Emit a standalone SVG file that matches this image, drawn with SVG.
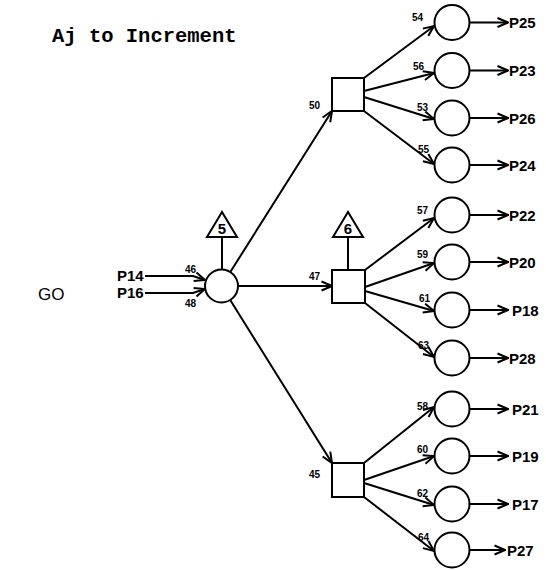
<svg xmlns="http://www.w3.org/2000/svg" width="546" height="570" viewBox="0 0 546 570">
<style>
.ln{fill:none;stroke:#000;stroke-width:2}
.nd{fill:#fff;stroke:#000;stroke-width:2}
.pl{font-family:"Liberation Sans",Arial,sans-serif;font-size:15px;font-weight:bold;fill:#000}
.num{font-family:"Liberation Sans",Arial,sans-serif;font-size:10px;font-weight:bold;fill:#000}
.ttl{font-family:"Liberation Mono","Courier New",monospace;font-size:20.5px;font-weight:bold;fill:#000}
</style>
<defs>
<marker id="a" viewBox="0 0 12 12" refX="11.5" refY="6" markerWidth="12" markerHeight="12" orient="auto" markerUnits="userSpaceOnUse">
<path d="M1,1.5 L11.5,6 L1,10.5" fill="none" stroke="#000" stroke-width="2"/>
</marker>
</defs>
<rect width="546" height="570" fill="#fff"/>
<text class="ttl" x="52" y="42">Aj to Increment</text>
<text x="38" y="300" font-family="Liberation Sans,Arial,sans-serif" font-size="17" fill="#000">GO</text>

<g id="connectors">
<polyline class="ln" points="145,276 193,276 205,280" marker-end="url(#a)"/>
<polyline class="ln" points="145,293 193,293 205,289" marker-end="url(#a)"/>
<line class="ln" x1="222" y1="237" x2="222" y2="270"/>
<line class="ln" x1="348" y1="237" x2="348" y2="270"/>
<line class="ln" x1="230.3" y1="272" x2="332" y2="111" marker-end="url(#a)"/>
<line class="ln" x1="238" y1="286" x2="332" y2="286" marker-end="url(#a)"/>
<line class="ln" x1="230.2" y1="300" x2="332" y2="463" marker-end="url(#a)"/>

<line class="ln" x1="364" y1="78" x2="434" y2="26" marker-end="url(#a)"/>
<line class="ln" x1="364" y1="91" x2="434" y2="73" marker-end="url(#a)"/>
<line class="ln" x1="364" y1="97" x2="434" y2="119" marker-end="url(#a)"/>
<line class="ln" x1="364" y1="111" x2="434" y2="164" marker-end="url(#a)"/>

<line class="ln" x1="365" y1="270" x2="434" y2="218" marker-end="url(#a)"/>
<line class="ln" x1="365" y1="287" x2="434" y2="263" marker-end="url(#a)"/>
<line class="ln" x1="365" y1="291" x2="434" y2="311" marker-end="url(#a)"/>
<line class="ln" x1="365" y1="303" x2="434" y2="357" marker-end="url(#a)"/>

<line class="ln" x1="364" y1="463" x2="434" y2="407" marker-end="url(#a)"/>
<line class="ln" x1="364" y1="480" x2="434" y2="456" marker-end="url(#a)"/>
<line class="ln" x1="364" y1="483" x2="434" y2="505" marker-end="url(#a)"/>
<line class="ln" x1="364" y1="497" x2="434" y2="551" marker-end="url(#a)"/>

<line class="ln" x1="469.5" y1="22.5" x2="508" y2="22.5" marker-end="url(#a)"/>
<line class="ln" x1="469.5" y1="70.5" x2="508" y2="70.5" marker-end="url(#a)"/>
<line class="ln" x1="469.5" y1="118" x2="508" y2="118" marker-end="url(#a)"/>
<line class="ln" x1="469.5" y1="165" x2="508" y2="165" marker-end="url(#a)"/>
<line class="ln" x1="469.5" y1="215" x2="508" y2="215" marker-end="url(#a)"/>
<line class="ln" x1="469.5" y1="262" x2="508" y2="262" marker-end="url(#a)"/>
<line class="ln" x1="469.5" y1="310" x2="508" y2="310" marker-end="url(#a)"/>
<line class="ln" x1="469.5" y1="358" x2="508" y2="358" marker-end="url(#a)"/>
<line class="ln" x1="469.5" y1="409" x2="508" y2="409" marker-end="url(#a)"/>
<line class="ln" x1="469.5" y1="456" x2="508" y2="456" marker-end="url(#a)"/>
<line class="ln" x1="469.5" y1="504" x2="508" y2="504" marker-end="url(#a)"/>
<line class="ln" x1="469.5" y1="550" x2="505" y2="550" marker-end="url(#a)"/>
</g>

<g id="inputs">
<text class="pl" x="117" y="281" font-size="13.5">P14</text>
<text class="pl" x="117" y="298" font-size="13.5">P16</text>
<text class="num" x="185" y="273">46</text>
<text class="num" x="185" y="307">48</text>
</g>

<g id="hub"><circle class="nd" cx="221.5" cy="286" r="16.5"/></g>
<g id="tri5"><polygon class="nd" points="222,212 207,237 237,237"/><text class="pl" x="222" y="234" text-anchor="middle" font-size="14">5</text></g>
<g id="tri6"><polygon class="nd" points="348,212 333,237 363,237"/><text class="pl" x="348" y="234" text-anchor="middle" font-size="14">6</text></g>

<g id="t50"><rect class="nd" x="332" y="78" width="32" height="33"/><text class="num" x="309" y="109">50</text></g>
<g id="t47"><rect class="nd" x="332" y="270" width="33" height="33"/><text class="num" x="309" y="280">47</text></g>
<g id="t45"><rect class="nd" x="332" y="463" width="32" height="34"/><text class="num" x="309" y="478">45</text></g>

<g id="p54"><circle class="nd" cx="452" cy="22.5" r="17.5"/><text class="num" x="412" y="21">54</text><text class="pl" x="509" y="28">P25</text></g>
<g id="p56"><circle class="nd" cx="452" cy="70.5" r="17.5"/><text class="num" x="413" y="70">56</text><text class="pl" x="509" y="76">P23</text></g>
<g id="p53"><circle class="nd" cx="452" cy="118" r="17.5"/><text class="num" x="417" y="111">53</text><text class="pl" x="509" y="123.5">P26</text></g>
<g id="p55"><circle class="nd" cx="452" cy="165" r="17.5"/><text class="num" x="418" y="153">55</text><text class="pl" x="509" y="170.5">P24</text></g>

<g id="p57"><circle class="nd" cx="452" cy="215" r="17.5"/><text class="num" x="417" y="214">57</text><text class="pl" x="509" y="220.5">P22</text></g>
<g id="p59"><circle class="nd" cx="452" cy="262" r="17.5"/><text class="num" x="417" y="258">59</text><text class="pl" x="509" y="267.5">P20</text></g>
<g id="p61"><circle class="nd" cx="452" cy="310" r="17.5"/><text class="num" x="419" y="302">61</text><text class="pl" x="512" y="315.5">P18</text></g>
<g id="p63"><circle class="nd" cx="452" cy="358" r="17.5"/><text class="num" x="418" y="349">63</text><text class="pl" x="509" y="363.5">P28</text></g>

<g id="p58"><circle class="nd" cx="452" cy="409" r="17.5"/><text class="num" x="417" y="410">58</text><text class="pl" x="512" y="414.5">P21</text></g>
<g id="p60"><circle class="nd" cx="452" cy="456" r="17.5"/><text class="num" x="417" y="453">60</text><text class="pl" x="512" y="461.5">P19</text></g>
<g id="p62"><circle class="nd" cx="452" cy="504" r="17.5"/><text class="num" x="417" y="497">62</text><text class="pl" x="512" y="509.5">P17</text></g>
<g id="p64"><circle class="nd" cx="452" cy="550" r="17.5"/><text class="num" x="418" y="541">64</text><text class="pl" x="507" y="555.5">P27</text></g>
</svg>
